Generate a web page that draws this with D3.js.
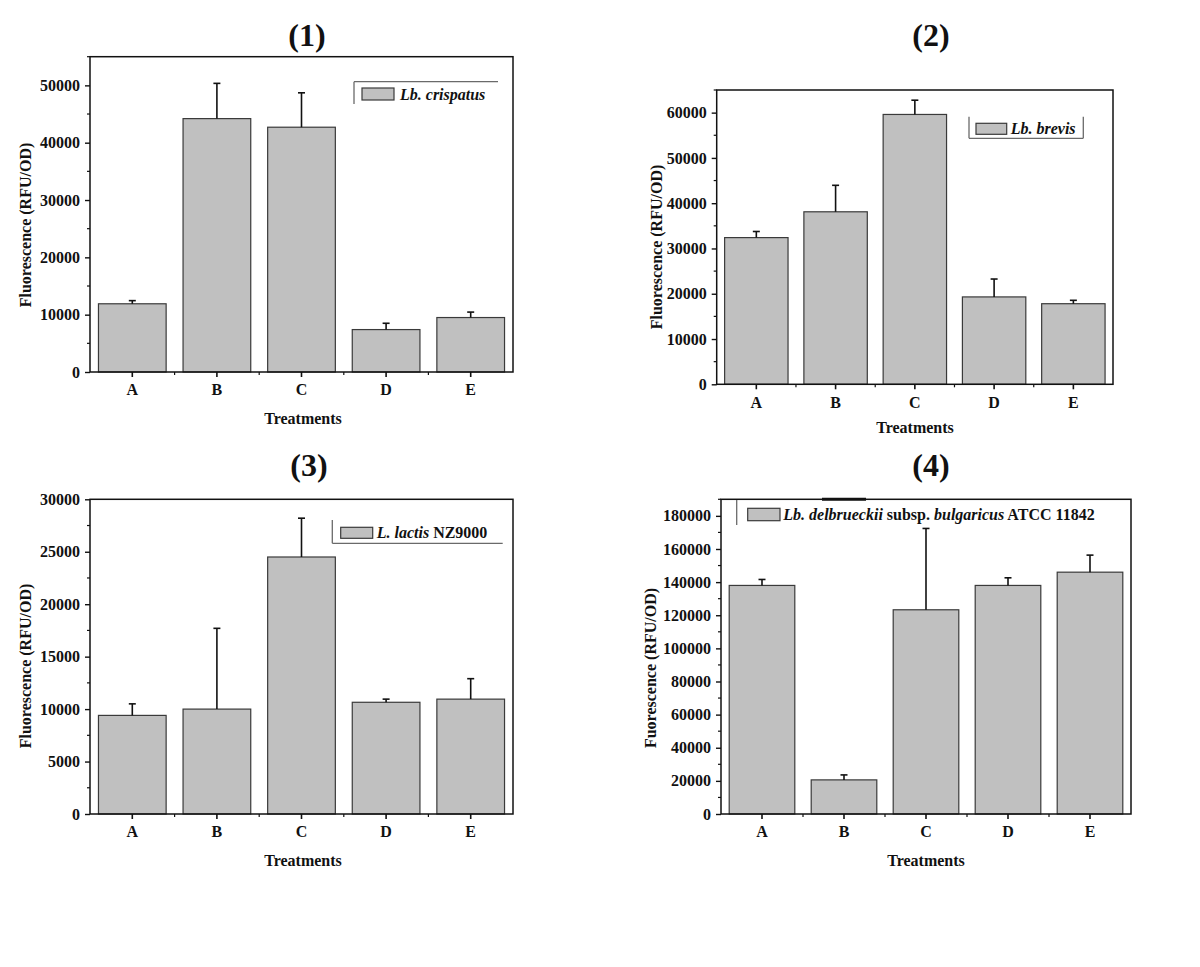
<!DOCTYPE html>
<html>
<head>
<meta charset="utf-8">
<script src="https://cdn.jsdelivr.net/npm/d3@7"></script>
<style>
  html, body { margin: 0; padding: 0; background: #fff; }
  svg { display: block; }
  text { font-family: "Liberation Serif", "Times New Roman", serif; font-weight: bold; fill: #111; }
</style>
</head>
<body>
<svg id="chart" width="1200" height="967"></svg>
<script>
// ---------------- data ----------------
const categories = ["A", "B", "C", "D", "E"];

const p1Means  = [11900, 44200, 42700, 7400, 9500];
const p1Errors = [550, 6150, 6000, 1100, 950];
const p1Ticks  = [0, 10000, 20000, 30000, 40000, 50000];

const p2Means  = [32400, 38100, 59600, 19300, 17800];
const p2Errors = [1350, 5850, 3150, 3950, 750];
const p2Ticks  = [0, 10000, 20000, 30000, 40000, 50000, 60000];

const p3Means  = [9400, 10000, 24500, 10650, 10950];
const p3Errors = [1100, 7700, 3700, 300, 1950];
const p3Ticks  = [0, 5000, 10000, 15000, 20000, 25000, 30000];

const p4Means  = [138000, 20600, 123300, 138000, 146000];
const p4Errors = [3600, 3000, 49100, 4600, 10300];
const p4Ticks  = [0, 20000, 40000, 60000, 80000, 100000, 120000, 140000, 160000, 180000];

const titles  = ["(1)", "(2)", "(3)", "(4)"];
const yLabels = ["Fluorescence (RFU/OD)", "Fluorescence (RFU/OD)", "Fluorescence (RFU/OD)", "Fuorescence (RFU/OD)"];
const xLabel  = "Treatments";
// legend pieces: [text, italic?]
const legend1 = [["Lb. crispatus", true]];
const legend2 = [["Lb. brevis", true]];
const legend3 = [["L. lactis", true], [" NZ9000", false]];
const legend4 = [["Lb. delbrueckii", true], [" subsp. ", false], ["bulgaricus", true], [" ATCC 11842", false]];

// ---------------- layout ----------------
const panels = [
  { means: p1Means, errors: p1Errors, ticks: p1Ticks, yMax: 55000, title: titles[0], yLabel: yLabels[0], legend: legend1,
    left: 90, right: 513, top: 56.7, bottom: 372,
    titleX: 307, titleY: 46, yLabX: 25, yLabY: 225, xLabX: 303, xLabY: 424,
    lg: { x: 354, y: 81.7, w: 144, h: 22.3, sides: ["top", "left"], sw: { x: 362, y: 88, w: 32, h: 12 }, tx: 400, ty: 99.5 } },
  { means: p2Means, errors: p2Errors, ticks: p2Ticks, yMax: 65000, title: titles[1], yLabel: yLabels[1], legend: legend2,
    left: 716.7, right: 1113, top: 90, bottom: 384.3,
    titleX: 931, titleY: 46, yLabX: 656, yLabY: 247, xLabX: 915, xLabY: 433,
    lg: { x: 969, y: 116.7, w: 114.3, h: 21.6, sides: ["left", "bottom", "right"], sw: { x: 976, y: 123.3, w: 30.7, h: 11 }, tx: 1010.7, ty: 134 } },
  { means: p3Means, errors: p3Errors, ticks: p3Ticks, yMax: 30000, title: titles[2], yLabel: yLabels[2], legend: legend3,
    left: 90, right: 513, top: 499.3, bottom: 814,
    titleX: 309, titleY: 476, yLabX: 25, yLabY: 666, xLabX: 303, xLabY: 866,
    lg: { x: 332.3, y: 520, w: 170.4, h: 23.3, sides: ["left", "bottom"], sw: { x: 340.7, y: 527.3, w: 32, h: 11 }, tx: 376.7, ty: 538 } },
  { means: p4Means, errors: p4Errors, ticks: p4Ticks, yMax: 190000, title: titles[3], yLabel: yLabels[3], legend: legend4,
    left: 721, right: 1131, top: 499.3, bottom: 814,
    titleX: 931, titleY: 476, yLabX: 650, yLabY: 668, xLabX: 926, xLabY: 866,
    lg: { x: 736.7, y: 500, w: 360, h: 25, sides: ["left"], sw: { x: 747.7, y: 508.3, w: 32.3, h: 12.4 }, tx: 783.3, ty: 520, topSeg: [822, 866] } }
];

const svg = d3.select("#chart");

panels.forEach(p => {
  const g = svg.append("g");
  const x = d3.scaleBand().domain(categories).range([p.left, p.right]).paddingInner(0.2).paddingOuter(0.1);
  const y = d3.scaleLinear().domain([0, p.yMax]).range([p.bottom, p.top]);

  // bars
  g.selectAll("rect.bar").data(categories).enter().append("rect")
    .attr("class", "bar")
    .attr("x", d => x(d))
    .attr("width", x.bandwidth())
    .attr("y", (d, i) => y(p.means[i]))
    .attr("height", (d, i) => y(0) - y(p.means[i]))
    .attr("fill", "#c0c0c0")
    .attr("stroke", "#3a3a3a")
    .attr("stroke-width", 1.2);

  // error bars (upper only)
  const eb = g.selectAll("g.err").data(categories).enter().append("g").attr("class", "err");
  eb.append("line")
    .attr("x1", d => x(d) + x.bandwidth() / 2).attr("x2", d => x(d) + x.bandwidth() / 2)
    .attr("y1", (d, i) => y(p.means[i])).attr("y2", (d, i) => y(p.means[i] + p.errors[i]))
    .attr("stroke", "#111").attr("stroke-width", 1.6);
  eb.append("line")
    .attr("x1", d => x(d) + x.bandwidth() / 2 - 3.5).attr("x2", d => x(d) + x.bandwidth() / 2 + 3.5)
    .attr("y1", (d, i) => y(p.means[i] + p.errors[i])).attr("y2", (d, i) => y(p.means[i] + p.errors[i]))
    .attr("stroke", "#111").attr("stroke-width", 1.6);

  // y axis: major ticks
  const step = p.ticks[1] - p.ticks[0];
  const yAxis = d3.axisLeft(y).tickValues(p.ticks).tickFormat(d3.format("d")).tickSize(5).tickPadding(5);
  const ya = g.append("g").attr("transform", `translate(${p.left},0)`).call(yAxis);
  ya.select(".domain").remove();
  ya.selectAll(".tick line").attr("stroke", "#111").attr("stroke-width", 1.4);
  ya.selectAll(".tick text").style("font-size", "16px").style("font-family", "Liberation Serif, serif").style("font-weight", "bold").attr("fill", "#111");
  // minor y ticks
  const minors = d3.range(step / 2, p.yMax + 1, step).filter(v => v <= p.yMax);
  g.selectAll("line.ymin").data(minors).enter().append("line")
    .attr("x1", p.left - 3).attr("x2", p.left)
    .attr("y1", d => y(d)).attr("y2", d => y(d))
    .attr("stroke", "#111").attr("stroke-width", 1.2);

  // x axis: major ticks at categories
  const xAxis = d3.axisBottom(x).tickSize(5).tickPadding(7);
  const xa = g.append("g").attr("transform", `translate(0,${p.bottom})`).call(xAxis);
  xa.select(".domain").remove();
  xa.selectAll(".tick line").attr("stroke", "#111").attr("stroke-width", 1.6);
  xa.selectAll(".tick text").style("font-size", "16px").style("font-family", "Liberation Serif, serif").style("font-weight", "bold").attr("fill", "#111");
  // minor x ticks at band boundaries
  const bounds = d3.range(1, categories.length).map(k => p.left + k * x.step());
  g.selectAll("line.xmin").data(bounds).enter().append("line")
    .attr("x1", d => d).attr("x2", d => d)
    .attr("y1", p.bottom).attr("y2", p.bottom + 3)
    .attr("stroke", "#111").attr("stroke-width", 1.2);

  // frame box
  g.append("rect")
    .attr("x", p.left).attr("y", p.top)
    .attr("width", p.right - p.left).attr("height", p.bottom - p.top)
    .attr("fill", "none").attr("stroke", "#111").attr("stroke-width", 1.5);

  // title
  g.append("text").attr("x", p.titleX).attr("y", p.titleY).attr("text-anchor", "middle")
    .style("font-size", "32px").text(p.title);

  // axis labels
  g.append("text").attr("transform", `translate(${p.yLabX},${p.yLabY}) rotate(-90)`)
    .attr("text-anchor", "middle").attr("dy", "0.35em").style("font-size", "16px").text(p.yLabel);
  g.append("text").attr("x", p.xLabX).attr("y", p.xLabY).attr("text-anchor", "middle")
    .style("font-size", "16px").text(xLabel);

  // legend
  const L = p.lg;
  const lgG = g.append("g");
  const segs = {
    top:    [L.x, L.y, L.x + L.w, L.y],
    bottom: [L.x, L.y + L.h, L.x + L.w, L.y + L.h],
    left:   [L.x, L.y, L.x, L.y + L.h],
    right:  [L.x + L.w, L.y, L.x + L.w, L.y + L.h]
  };
  L.sides.forEach(s => {
    const c = segs[s];
    lgG.append("line").attr("x1", c[0]).attr("y1", c[1]).attr("x2", c[2]).attr("y2", c[3])
      .attr("stroke", "#6a6a6a").attr("stroke-width", 1.3);
  });
  if (L.topSeg) {
    lgG.append("line").attr("x1", L.topSeg[0]).attr("x2", L.topSeg[1]).attr("y1", p.top).attr("y2", p.top)
      .attr("stroke", "#111").attr("stroke-width", 3);
  }
  lgG.append("rect").attr("x", L.sw.x).attr("y", L.sw.y).attr("width", L.sw.w).attr("height", L.sw.h)
    .attr("fill", "#c0c0c0").attr("stroke", "#3a3a3a").attr("stroke-width", 1.2);
  const t = lgG.append("text").attr("x", L.tx).attr("y", L.ty).style("font-size", "16px");
  p.legend.forEach(([s, it]) => {
    t.append("tspan").style("font-style", it ? "italic" : "normal").text(s);
  });
});
</script>
</body>
</html>
